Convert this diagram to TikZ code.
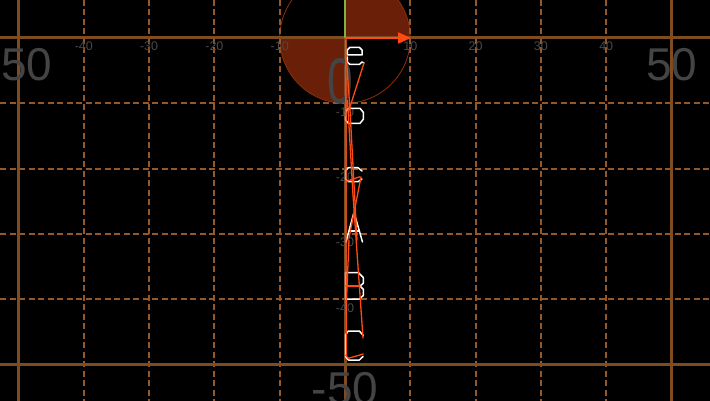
\documentclass[tikz,border=0pt]{standalone}
\usepackage{fontspec}
\setmainfont{Liberation Sans}
\usetikzlibrary{arrows.meta}
\definecolor{axisbrown}{HTML}{7F4B21}
\definecolor{dashbrown}{HTML}{93592A}
\definecolor{discred}{HTML}{6A2008}
\definecolor{discedge}{HTML}{8E2C0C}
\definecolor{tracered}{HTML}{FF4A14}
\definecolor{headgreen}{HTML}{7CB342}
\definecolor{labelgray}{HTML}{4A4A4A}
\definecolor{biggray}{HTML}{444444}
\tikzset{
  gdash/.style={dashbrown, line width=1.9pt, dash pattern=on 6pt off 3.5pt},
  gsolid/.style={axisbrown, line width=3pt},
  smalllab/.style={labelgray, inner sep=0pt, font=\fontsize{12.5}{12.5}\selectfont},
  biglab/.style={biggray, inner sep=0pt, font=\fontsize{46}{46}\selectfont},
  glyph/.style={white, line width=1.5pt, line join=round, line cap=round},
  trace/.style={tracered, line width=1.3pt, line cap=round}
}
\begin{document}
\begin{tikzpicture}[x=1pt,y=-1pt]
\useasboundingbox (0,0) rectangle (710,401);
\fill[black] (0,0) rectangle (710,401);
% disc with two filled quadrants
\begin{scope}
  \clip (345,38) circle (65.3pt);
  \fill[discred] (345,-40) rectangle (420,38);
  \fill[discred] (270,38) rectangle (345,110);
\end{scope}
\draw[discedge, line width=0.8pt] (345,38) circle (65.3pt);
% grid
\foreach \x in {83.8,149.1,214.4,279.7,410.3,475.6,540.9,606.2}
  \draw[gdash] (\x,0) -- (\x,401);
\foreach \y in {103.3,168.6,233.9,299.2}
  \draw[gdash] (0,\y) -- (710,\y);
\draw[gsolid] (18.5,0) -- (18.5,401);
\draw[gsolid] (671.5,0) -- (671.5,401);
\draw[gsolid] (0,38) -- (710,38);
\draw[gsolid] (0,364.5) -- (710,364.5);
\draw[gsolid] (345,38) -- (345,401);
% small labels
\node[smalllab] (xm40) at (83.8,46.5) {-40};
\node[smalllab] (xm30) at (149.1,46.5) {-30};
\node[smalllab] (xm20) at (214.4,46.5) {-20};
\node[smalllab] (xm10) at (279.7,46.5) {-10};
\node[smalllab] (xp10) at (410.3,46.5) {10};
\node[smalllab] (xp20) at (475.6,46.5) {20};
\node[smalllab] (xp30) at (540.9,46.5) {30};
\node[smalllab] (xp40) at (606.2,46.5) {40};
\node[smalllab] (ym10) at (345,111.8) {-10};
\node[smalllab] (ym20) at (345,177.1) {-20};
\node[smalllab] (ym30) at (345,242.4) {-30};
\node[smalllab] (ym40) at (345,307.7) {-40};
% big labels
\node[biglab] (xleft) at (27,65) {50};
\node[biglab] (xright) at (672,65) {50};
\node[biglab] (ybottom) at (345,389) {-50};
\node[biglab, yscale=1.4] (orig) at (340.5,81) {0};
% heading line and arrow
\coordinate (o) at (345,38);
\coordinate (top) at (345,0);
\coordinate (xend) at (411,38);
\draw[headgreen, line width=2pt] (o) -- (top);
\draw[tracered, line width=2pt, -{Triangle[length=13pt,width=11pt]}] (o) -- (xend);
% white glyphs
\draw[glyph] (347.3,55) -- (347.3,50) -- (350,47.3) -- (359.3,47.3) -- (362,50) -- (362,55) -- cycle;
\draw[glyph] (347.3,57) -- (347.3,62) -- (350,64.5) -- (359.3,64.5) -- (362,62) -- (364,63);
\draw[glyph] (348.3,108.3) -- (360,108.3) -- (363.3,112.3) -- (363.3,119.3) -- (360,123.3) -- (348.3,123.3) -- (345.7,120) -- (345.7,111.7) -- cycle;
\draw[glyph] (362,171) -- (358,167.7) -- (348.3,167.7) -- (345.7,170.5) -- (345.7,179.3) -- (348.3,181.7) -- (358,181.7) -- (362,179);
\draw[glyph] (346,242) -- (353.5,214) -- (354.5,214) -- (362.5,242);
\draw[glyph] (349.3,231) -- (359.3,231);
\draw[glyph] (345.7,299) -- (345.7,272.5) -- (358.3,272.5) -- (363.3,277.5) -- (363.3,283.3) -- (360,286) -- (345.7,286);
\draw[glyph] (360,286) -- (363.3,289.3) -- (363.3,295.5) -- (359.3,299) -- (345.7,299);
\draw[glyph] (363.3,335.5) -- (359.3,331) -- (348.3,331) -- (345.7,334.5) -- (345.7,356.7) -- (348.3,360) -- (359.3,360) -- (363,356.5);
% red trace lines
\draw[trace] (345.8,40) -- (346.2,356);
\draw[trace] (346.5,60) -- (350,110);
\draw[trace] (364,63) -- (349,110);
\draw[trace] (350,110) -- (357,240);
\draw[trace] (347.5,100) -- (353,195);
\draw[trace] (361,177) -- (349,238);
\draw[trace] (353,195) -- (363,338);
\draw[trace] (349,240) -- (346.5,300);
\draw[trace] (345.7,181.7) -- (360,176.7);
\draw[trace] (345.7,286) -- (360,286);
\draw[trace] (345.5,355) -- (348.3,358.3) -- (363.3,354);
\end{tikzpicture}
\end{document}
